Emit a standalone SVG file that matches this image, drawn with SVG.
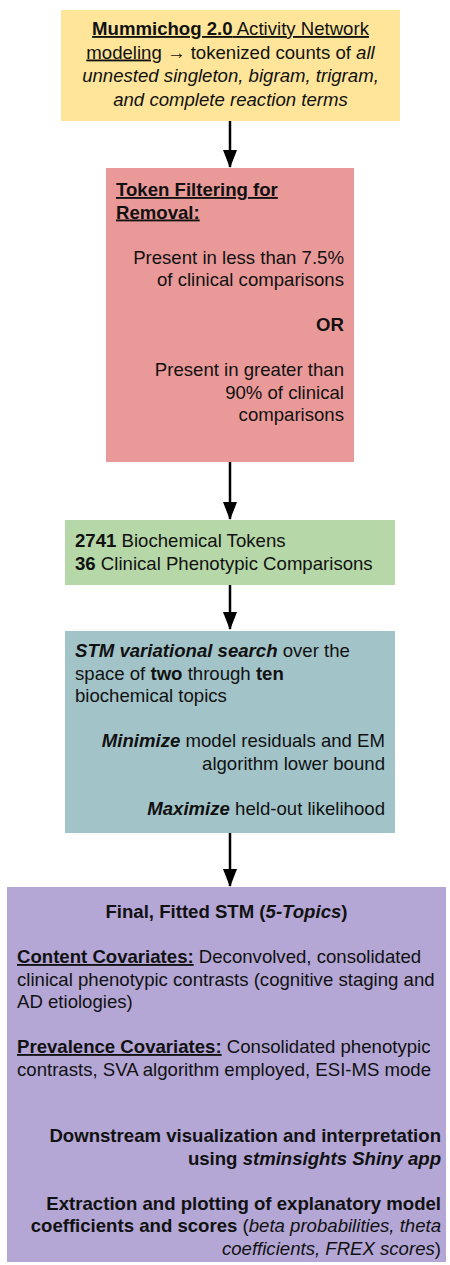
<svg xmlns="http://www.w3.org/2000/svg" width="450" height="1265" viewBox="0 0 450 1265">
<defs>
<style>
text{font-family:"Liberation Sans",Arial,sans-serif;font-size:18.6px;fill:#111}
.b{font-weight:bold}
.i{font-style:italic}
.u{text-decoration:underline}
.mid{text-anchor:middle}
.end{text-anchor:end}
.conn line{stroke:#000;stroke-width:2.5}
</style>
<marker id="ah" markerWidth="18" markerHeight="14" refX="17" refY="7" orient="auto" markerUnits="userSpaceOnUse" viewBox="0 0 18 14">
<path d="M0,0 L18,7 L0,14 Z" fill="#000"/>
</marker>
</defs>
<rect width="450" height="1265" fill="#fff"/>
<g id="connectors" class="conn">
<line x1="230" y1="121" x2="230" y2="167" marker-end="url(#ah)"/>
<line x1="230" y1="462" x2="230" y2="519" marker-end="url(#ah)"/>
<line x1="230" y1="585" x2="230" y2="629" marker-end="url(#ah)"/>
<line x1="230" y1="833" x2="230" y2="886" marker-end="url(#ah)"/>
</g>
<g id="node-mummichog">
<rect x="61" y="10" width="339" height="111" fill="#FFE599"/>
<text class="mid" x="230.5" y="35"><tspan class="b u">Mummichog 2.0</tspan><tspan class="u"> Activity Network</tspan></text>
<text class="mid" x="230.5" y="58.5"><tspan class="u">modeling</tspan> → tokenized counts of <tspan class="i">all</tspan></text>
<text class="mid i" x="230.5" y="82">unnested singleton, bigram, trigram,</text>
<text class="mid i" x="230.5" y="105.5">and complete reaction terms</text>
</g>
<g id="node-filter">
<rect x="106" y="168" width="248" height="294" fill="#EA9999"/>
<text class="b u" x="116" y="196">Token Filtering for</text>
<text class="b u" x="116" y="218.5">Removal:</text>
<text class="end" x="344" y="263.5">Present in less than 7.5%</text>
<text class="end" x="344" y="286">of clinical comparisons</text>
<text class="end b" x="344" y="331">OR</text>
<text class="end" x="344" y="376">Present in greater than</text>
<text class="end" x="344" y="398.5">90% of clinical</text>
<text class="end" x="344" y="421">comparisons</text>
</g>
<g id="node-tokens">
<rect x="65" y="520" width="330" height="65" fill="#B6D7A8"/>
<text x="75" y="547"><tspan class="b">2741</tspan> Biochemical Tokens</text>
<text x="75" y="569.5"><tspan class="b">36</tspan> Clinical Phenotypic Comparisons</text>
</g>
<g id="node-stm-search">
<rect x="65" y="631" width="330" height="202" fill="#A2C4C9"/>
<text x="75" y="657"><tspan class="b i">STM variational search</tspan> over the</text>
<text x="75" y="679.5">space of <tspan class="b">two</tspan> through <tspan class="b">ten</tspan></text>
<text x="75" y="702">biochemical topics</text>
<text class="end" x="385" y="747"><tspan class="b i">Minimize</tspan> model residuals and EM</text>
<text class="end" x="385" y="769.5">algorithm lower bound</text>
<text class="end" x="385" y="814.5"><tspan class="b i">Maximize</tspan> held-out likelihood</text>
</g>
<g id="node-final-stm">
<rect x="7" y="887" width="439" height="375" fill="#B4A7D6"/>
<text class="mid b" x="226.5" y="918">Final, Fitted STM (<tspan class="i">5-Topics</tspan>)</text>
<text x="17" y="963"><tspan class="b u">Content Covariates:</tspan> Deconvolved, consolidated</text>
<text x="17" y="985.5">clinical phenotypic contrasts (cognitive staging and</text>
<text x="17" y="1008">AD etiologies)</text>
<text x="17" y="1053"><tspan class="b u">Prevalence Covariates:</tspan> Consolidated phenotypic</text>
<text x="17" y="1075.5">contrasts, SVA algorithm employed, ESI-MS mode</text>
<text class="end b" x="441" y="1142">Downstream visualization and interpretation</text>
<text class="end b" x="441" y="1164.5">using <tspan class="i">stminsights Shiny app</tspan></text>
<text class="end b" x="441" y="1209.5">Extraction and plotting of explanatory model</text>
<text class="end" x="441" y="1232"><tspan class="b">coefficients and scores</tspan> (<tspan class="i">beta probabilities, theta</tspan></text>
<text class="end" x="441" y="1254.5"><tspan class="i">coefficients, FREX scores</tspan>)</text>
</g>
</svg>
